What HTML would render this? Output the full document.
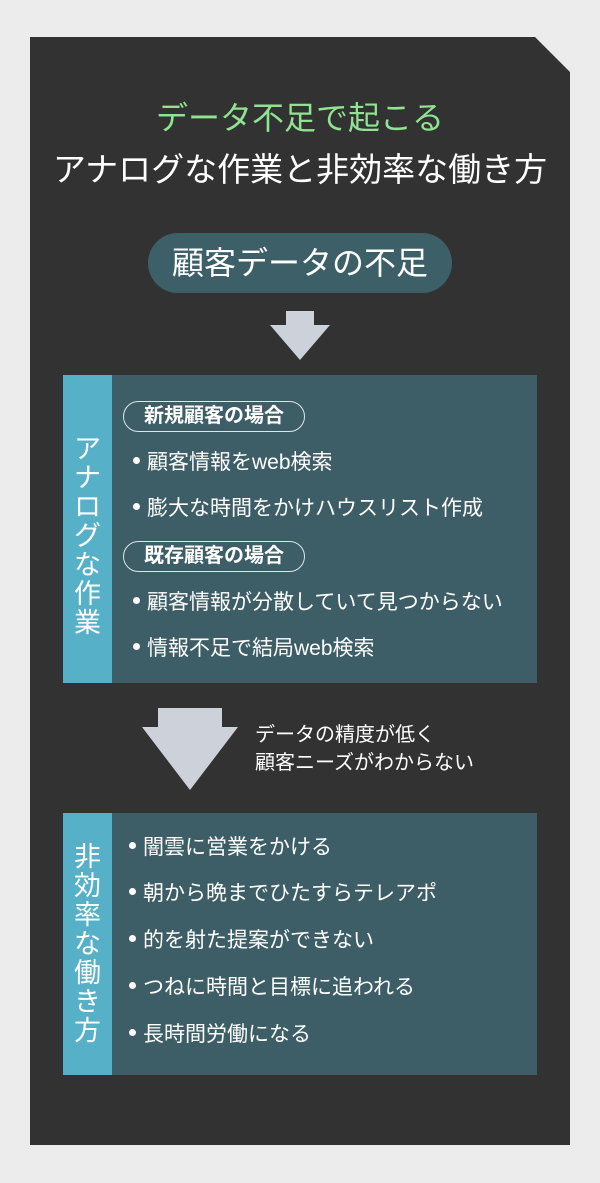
<!DOCTYPE html>
<html><head><meta charset="utf-8"><style>
body{margin:0;width:600px;height:1183px;background:#ececec;position:relative;overflow:hidden;font-family:"Liberation Sans","Noto Sans CJK JP",sans-serif;color:#fff}
.panel{position:absolute;left:30px;top:37px;width:540px;height:1108px;background:#323232;clip-path:polygon(0 0,505px 0,540px 35px,540px 100%,0 100%)}
.a{position:absolute;white-space:nowrap}
.box{position:absolute;left:63px;width:474px;background:#3d5e66}
.strip{position:absolute;left:0;top:0;bottom:0;width:49px;background:#55b0c8}
.vt{position:absolute;left:0;width:49px;text-align:center;font-size:27px;line-height:29px}
.tag{position:absolute;left:60px;height:29px;width:180px;border:1.5px solid #dfe6e8;border-radius:16px;font-size:20px;font-weight:bold;line-height:29px;text-align:center}
.li{position:absolute;font-size:21px;line-height:26px;white-space:nowrap}
.li:before{content:"";display:inline-block;width:7px;height:7px;border-radius:50%;background:#fff;margin-right:7px;vertical-align:5px}
</style></head><body>
<div class="panel"></div>
<div class="a" style="left:0;width:600px;text-align:center;top:93px;font-size:32px;color:#8fe391">データ不足で起こる</div>
<div class="a" style="left:0;width:600px;text-align:center;top:143px;font-size:33px">アナログな作業と非効率な働き方</div>
<div class="a" style="left:148px;top:233px;width:304px;height:60px;border-radius:30px;background:#3d6068;text-align:center;line-height:60px;font-size:32px">顧客データの不足</div>
<svg class="a" style="left:0;top:0" width="600" height="1183">
<polygon points="286,311 314,311 314,325 330,325 300,360 270,325 286,325" fill="#cdd1da"/>
<polygon points="158,708 222,708 222,727 238,727 190,790 142,727 158,727" fill="#cdd1da"/>
</svg>
<div class="box" style="top:375px;height:308px"><div class="strip"></div>
<div class="vt" style="top:60px">ア<br>ナ<br>ロ<br>グ<br>な<br>作<br>業</div>
<div class="tag" style="top:26px">新規顧客の場合</div>
<div class="li" style="left:70px;top:75px">顧客情報をweb検索</div>
<div class="li" style="left:70px;top:121px">膨大な時間をかけハウスリスト作成</div>
<div class="tag" style="top:166px">既存顧客の場合</div>
<div class="li" style="left:70px;top:215px">顧客情報が分散していて見つからない</div>
<div class="li" style="left:70px;top:261px">情報不足で結局web検索</div>
</div>
<div class="a" style="left:255px;top:721px;font-size:20px;line-height:28px">データの精度が低く<br>顧客ニーズがわからない</div>
<div class="box" style="top:813px;height:262px"><div class="strip"></div>
<div class="vt" style="top:30px">非<br>効<br>率<br>な<br>働<br>き<br>方</div>
<div class="li" style="left:66px;top:22px">闇雲に営業をかける</div>
<div class="li" style="left:66px;top:68px">朝から晩までひたすらテレアポ</div>
<div class="li" style="left:66px;top:115px">的を射た提案ができない</div>
<div class="li" style="left:66px;top:162px">つねに時間と目標に追われる</div>
<div class="li" style="left:66px;top:209px">長時間労働になる</div>
</div>
</body></html>
